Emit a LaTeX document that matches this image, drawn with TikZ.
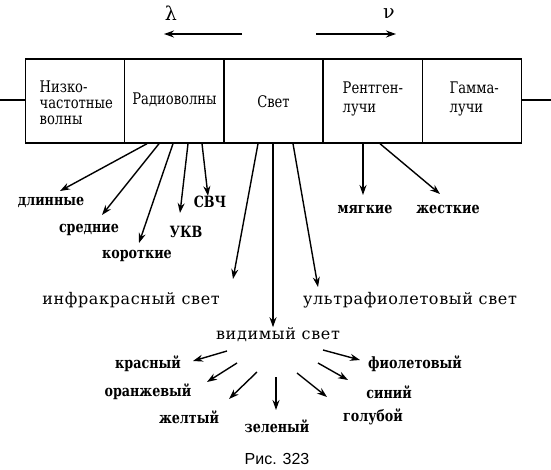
\documentclass[tikz,border=0pt]{standalone}
\usepackage{fontspec}
\setmainfont{DejaVu Serif}
\newfontfamily\boxfont{DejaVu Serif}[FakeStretch=0.82]
\newfontfamily\labfont{DejaVu Serif Bold}[FakeStretch=0.82]
\newfontfamily\widefont{DejaVu Serif}[LetterSpace=4]
\newfontfamily\capfont{Liberation Sans}
\usetikzlibrary{arrows.meta,calc}
\begin{document}
\begin{tikzpicture}[x=1pt,y=-1pt,
  line width=1.4pt,
  cell/.style={draw,minimum width=99.5pt,minimum height=84pt,inner sep=0pt},
  btxt/.style={inner sep=0pt,align=left,font=\fontsize{16}{16}\boxfont},
  arr/.style={-{Stealth[length=10pt,width=7pt]}},
  lab/.style={inner sep=0pt,font=\fontsize{15.5}{16}\labfont},
  wlab/.style={inner sep=0pt,font=\fontsize{16}{17}\widefont},
  greek/.style={inner sep=0pt,font=\fontsize{19}{21}\selectfont}]
\useasboundingbox (0,0) rectangle (551,470);
% boxes
\node[cell] (b1) at (75,101) {};
\node[cell] (b2) at (174.5,101) {};
\node[cell] (b3) at (273.5,101) {};
\node[cell] (b4) at (372.5,101) {};
\node[cell] (b5) at (472,101) {};
\node[btxt,anchor=west,font=\fontsize{16}{16}\boxfont] (t1) at (39,103) {Низко-\\частотные\\волны};
\node[btxt] (t2) at (174.5,100) {Радиоволны};
\node[btxt] (t3) at (273.5,102) {Свет};
\node[btxt,anchor=west,font=\fontsize{16}{19}\boxfont] (t4) at (342,99) {Рентген-\\лучи};
\node[btxt,anchor=west,font=\fontsize{16}{19}\boxfont] (t5) at (449,99) {Гамма-\\лучи};
% stubs
\coordinate (sl) at (0,100);
\coordinate (sr) at (551,100);
\draw (sl) -- (b1.west |- sl);
\draw (b5.east |- sr) -- (sr);
% lambda / nu
\node[greek] (lam) at (171,13) {λ};
\node[greek] (nu) at (389,14) {ν};
\coordinate (la1) at (242,34); \coordinate (la2) at (164,34);
\coordinate (nu1) at (316,34); \coordinate (nu2) at (396,34);
\draw[arr] (la1) -- (la2);
\draw[arr] (nu1) -- (nu2);
% radio labels
\node[lab] (dl) at (51,202) {длинные};
\node[lab] (sr2) at (89,230) {средние};
\node[lab] (ko) at (137,256) {короткие};
\node[lab] (ukv) at (186,232) {УКВ};
\node[lab] (svch) at (210,202) {СВЧ};
\coordinate (a1) at (60,191);
\coordinate (a2) at (102,215);
\coordinate (a3) at (139,243);
\coordinate (a4) at (180,213);
\coordinate (a5) at (208,196);
\draw[arr] ([xshift=-27.5pt]b2.south) -- (a1);
\draw[arr] ([xshift=-15.5pt]b2.south) -- (a2);
\draw[arr] ([xshift=-1.5pt]b2.south) -- (a3);
\draw[arr] ([xshift=13.5pt]b2.south) -- (a4);
\draw[arr] ([xshift=27.5pt]b2.south) -- (a5);
% light
\node[wlab] (ir) at (131,300) {инфракрасный свет};
\node[wlab] (uv) at (410,300) {ультрафиолетовый свет};
\node[wlab] (vis) at (278,335) {видимый свет};
\coordinate (a6) at (233,279);
\coordinate (a7) at (318,287);
\draw[arr] ([xshift=-15.5pt]b3.south) -- (a6);
\draw[arr] ([xshift=19.5pt]b3.south) -- (a7);
\draw[arr] ([xshift=-0.5pt]b3.south) -- (vis.north -| 273,0);
% x-rays
\node[lab] (soft) at (365,209) {мягкие};
\node[lab] (hard) at (448,209) {жесткие};
\coordinate (a8) at (363,195);
\coordinate (a9) at (440,194);
\draw[arr] ([xshift=-9.5pt]b4.south) -- (a8);
\draw[arr] ([xshift=7.5pt]b4.south) -- (a9);
% colours
\node[lab] (red) at (148,364) {красный};
\node[lab] (ora) at (148,392) {оранжевый};
\node[lab] (yel) at (189,417) {желтый};
\node[lab] (gre) at (277,426) {зеленый};
\node[lab] (lbl) at (373,417) {голубой};
\node[lab] (blu) at (389,392) {синий};
\node[lab] (vio) at (415,364) {фиолетовый};
\coordinate (s1) at (227,351); \coordinate (e1) at (193,361);
\coordinate (s2) at (237,363); \coordinate (e2) at (207,382);
\coordinate (s3) at (257,372); \coordinate (e3) at (229,399);
\coordinate (s4) at (276,377); \coordinate (e4) at (276,410);
\coordinate (s5) at (297,373); \coordinate (e5) at (327,397);
\coordinate (s6) at (318,363); \coordinate (e6) at (348,380);
\coordinate (s7) at (323,350); \coordinate (e7) at (360,360);
\draw[arr] (s1) -- (e1);
\draw[arr] (s2) -- (e2);
\draw[arr] (s3) -- (e3);
\draw[arr] (s4) -- (e4);
\draw[arr] (s5) -- (e5);
\draw[arr] (s6) -- (e6);
\draw[arr] (s7) -- (e7);
% caption
\node[inner sep=0pt,font=\fontsize{16}{18}\capfont] (cap) at (277,459) {Рис. 323};
\end{tikzpicture}
\end{document}
